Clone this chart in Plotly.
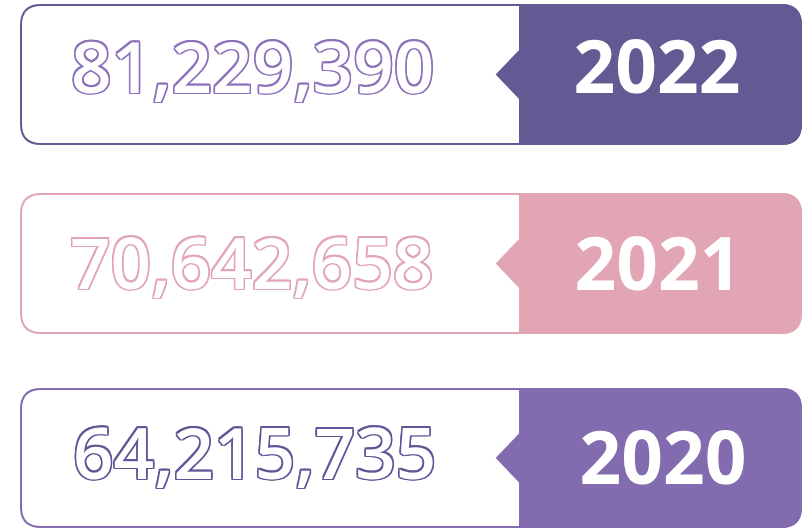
import plotly.graph_objects as go

# ---- data ----
years = ["2022", "2021", "2020"]
values = ["81,229,390", "70,642,658", "64,215,735"]
box_colors = ["#625B93", "#E1A5B3", "#826BAE"]
number_colors = ["#8C72B9", "#E1A5B3", "#5F5597"]

# ---- layout constants (pixels) ----
W, H = 805, 529
tops = [5, 194, 389]
bottoms = [144, 333, 527]
num_x = [71, 70, 73]
num_y = [75, 271, 461]
year_x = [657, 658, 663]
year_y = [75, 272, 466]
X0, X1, XS, XT = 21, 801, 520, 497
R = 20
NOTCH = 24

fig = go.Figure()
shapes = []

def outline(c):
    d = 1.5
    parts = []
    for dx, dy in [(-d, -d), (d, -d), (-d, d), (d, d), (0, d), (0, -d), (d, 0), (-d, 0)]:
        parts.append(f"{dx}px {dy}px 0px {c}")
    return ", ".join(parts)

for i, yr in enumerate(years):
    t, b = tops[i], bottoms[i]
    c = box_colors[i]
    mid = (t + b) / 2
    full = (f"M {X0+R},{t} L {X1-R},{t} Q {X1},{t} {X1},{t+R} L {X1},{b-R} Q {X1},{b} {X1-R},{b} "
            f"L {X0+R},{b} Q {X0},{b} {X0},{b-R} L {X0},{t+R} Q {X0},{t} {X0+R},{t} Z")
    shapes.append(dict(type="path", path=full, xref="x", yref="y",
                       fillcolor="white", line=dict(color=c, width=2), layer="below"))
    right = (f"M {XS},{t} L {X1-R},{t} Q {X1},{t} {X1},{t+R} L {X1},{b-R} Q {X1},{b} {X1-R},{b} "
             f"L {XS},{b} L {XS},{mid+NOTCH} L {XT},{mid} L {XS},{mid-NOTCH} Z")
    shapes.append(dict(type="path", path=right, xref="x", yref="y",
                       fillcolor=c, line=dict(color=c, width=2), layer="below"))

    fig.add_trace(go.Scatter(
        x=[num_x[i]], y=[num_y[i]], mode="text", text=[values[i]], textposition="middle right",
        textfont=dict(family="Open Sans", size=71, color="white", weight=600,
                      shadow=outline(number_colors[i])),
        hoverinfo="skip", showlegend=False))
    fig.add_trace(go.Scatter(
        x=[year_x[i]], y=[year_y[i]], mode="text", text=[yr], textposition="middle center",
        textfont=dict(family="Open Sans", size=73, color="white", weight=700),
        hoverinfo="skip", showlegend=False))

fig.update_layout(
    width=W, height=H, margin=dict(l=0, r=0, t=0, b=0),
    paper_bgcolor="white", plot_bgcolor="white", shapes=shapes,
    xaxis=dict(range=[0, W], visible=False, fixedrange=True),
    yaxis=dict(range=[H, 0], visible=False, fixedrange=True),
)
fig.write_html("out.html", config={"displayModeBar": False},
               post_script="document.body.style.margin='0';document.body.style.overflow='hidden';")
